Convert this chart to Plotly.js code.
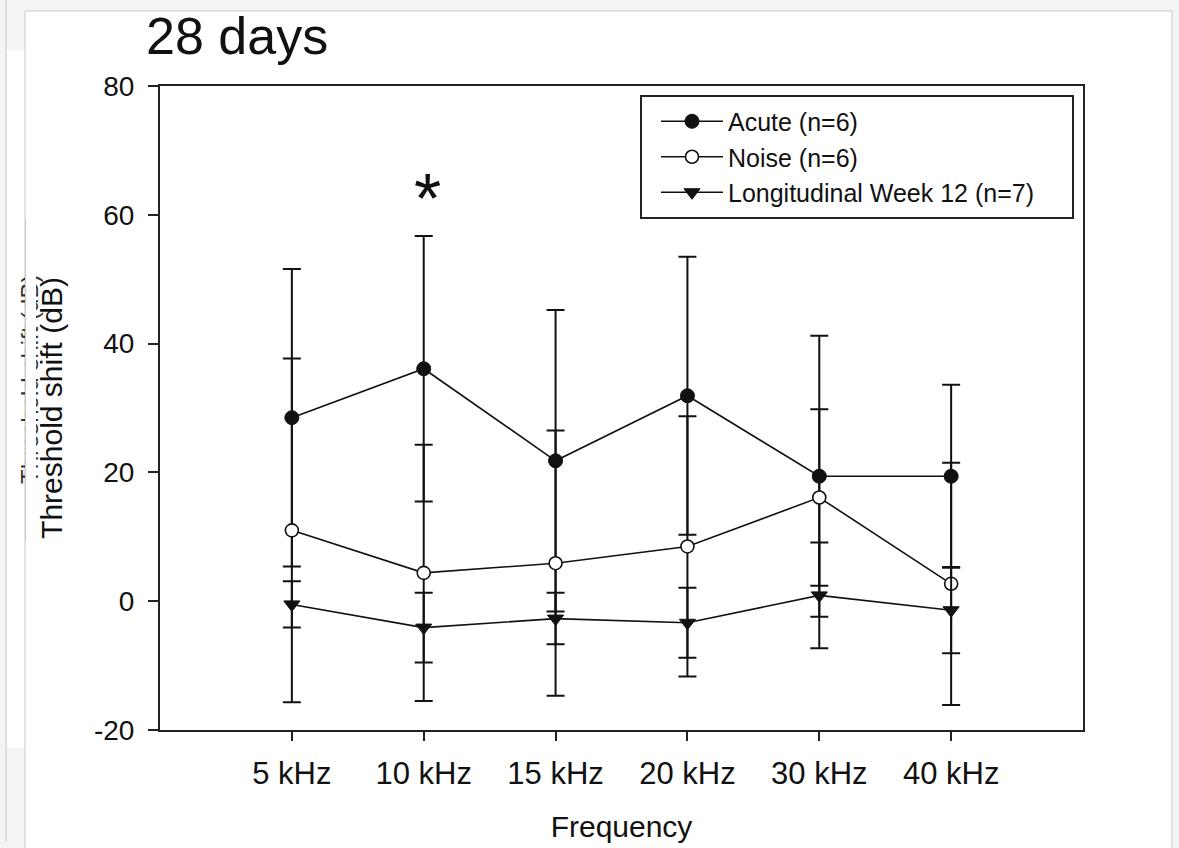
<!DOCTYPE html>
<html>
<head>
<meta charset="utf-8">
<script src="https://cdn.plot.ly/plotly-3.0.1.min.js"></script>
<style>
  html, body { margin: 0; padding: 0; background: #f3f4f4; }
  #chart { width: 1179px; height: 848px; }
</style>
</head>
<body>
<div id="chart"></div>
<script>
// Frequencies tested
const frequencies = ['5 kHz', '10 kHz', '15 kHz', '20 kHz', '30 kHz', '40 kHz'];

// Mean threshold shift (dB) and error (dB) per group
const acuteMean = [28.5, 36.1, 21.8, 31.9, 19.4, 19.4];
const acuteErr  = [23.1, 20.6, 23.4, 21.6, 21.8, 14.2];

const noiseMean = [11.0, 4.4, 5.9, 8.5, 16.1, 2.7];
const noiseErr  = [26.7, 19.9, 20.6, 20.2, 13.7, 18.8];

const longMean = [-0.5, -4.1, -2.7, -3.35, 0.9, -1.4];
const longErr  = [3.6, 5.4, 4.0, 5.45, 8.2, 6.7];

const seriesNames = ['Acute (n=6)', 'Noise (n=6)', 'Longitudinal Week 12 (n=7)'];
const yTicks = [-20, 0, 20, 40, 60, 80];

// Plot-area geometry (pixels) used to place paper-referenced decorations
const W = 1179, H = 848;
const M = { l: 160, r: 96, t: 86, b: 118 };
const plotW = W - M.l - M.r, plotH = H - M.t - M.b;
const px = p => (p - M.l) / plotW;
const py = p => (H - M.b - p) / plotH;

const FONT = '"Liberation Sans", Arial, sans-serif';
const INK = '#111111';

function series(name, mean, err, marker) {
  return {
    type: 'scatter',
    mode: 'lines+markers',
    name: name,
    x: frequencies,
    y: mean,
    error_y: { type: 'data', array: err, visible: true, color: INK, thickness: 2, width: 9 },
    line: { color: INK, width: 1.6 },
    marker: marker,
    cliponaxis: false
  };
}

const traces = [
  series(seriesNames[0], acuteMean, acuteErr,
         { symbol: 'circle', size: 14, color: INK, line: { color: INK, width: 1 } }),
  series(seriesNames[1], noiseMean, noiseErr,
         { symbol: 'circle', size: 13, color: '#ffffff', line: { color: INK, width: 1.6 } }),
  series(seriesNames[2], longMean, longErr,
         { symbol: 'triangle-down', size: 14, color: INK, line: { color: INK, width: 1 } })
];

const layout = {
  width: W, height: H, autosize: false,
  margin: M,
  paper_bgcolor: '#f3f4f4',
  plot_bgcolor: '#ffffff',
  font: { family: FONT, color: INK },
  showlegend: true,
  title: {
    text: '28 days',
    font: { family: FONT, size: 52, color: INK },
    xref: 'container', x: 146 / W, xanchor: 'left',
    yref: 'container', y: 1 - 36 / H, yanchor: 'middle'
  },
  xaxis: {
    type: 'category',
    range: [-1, 6],
    showgrid: false, zeroline: false,
    showline: true, linecolor: '#222', linewidth: 2, mirror: true,
    ticks: 'outside', ticklen: 9, tickwidth: 2, tickcolor: '#222',
    ticklabelstandoff: 6,
    tickfont: { family: FONT, size: 31, color: INK },
    title: { text: 'Frequency', font: { family: FONT, size: 30, color: INK }, standoff: 26 }
  },
  yaxis: {
    range: [-20, 80],
    tickvals: yTicks,
    ticktext: yTicks.map(String),
    showgrid: false, zeroline: false,
    showline: true, linecolor: '#222', linewidth: 2, mirror: true,
    ticks: 'outside', ticklen: 10, tickwidth: 2, tickcolor: '#222',
    ticklabelstandoff: 8,
    tickfont: { family: FONT, size: 28, color: INK },
    title: { text: 'Threshold shift (dB)', font: { family: FONT, size: 30, color: INK }, standoff: 22 }
  },
  legend: {
    x: px(656), xanchor: 'left',
    y: py(157), yanchor: 'middle',
    bgcolor: 'rgba(0,0,0,0)', borderwidth: 0,
    itemwidth: 62,
    font: { family: FONT, size: 25, color: INK },
    tracegroupgap: 0
  },
  shapes: [
    // page frame
    { type: 'line', xref: 'paper', yref: 'paper', layer: 'below',
      x0: px(6), x1: px(6), y0: py(0), y1: py(842), line: { color: '#c8c8c8', width: 1 } },
    { type: 'rect', xref: 'paper', yref: 'paper', layer: 'below',
      x0: px(7), x1: px(25), y0: py(50), y1: py(748), fillcolor: '#ffffff', line: { width: 0 } },
    { type: 'rect', xref: 'paper', yref: 'paper', layer: 'below',
      x0: px(25), x1: px(1172), y0: py(11), y1: py(870),
      fillcolor: '#ffffff', line: { color: '#c8c8c8', width: 1 } },
    // legend box
    { type: 'rect', xref: 'paper', yref: 'paper', layer: 'above',
      x0: px(641), x1: px(1073), y0: py(218), y1: py(96),
      fillcolor: 'rgba(0,0,0,0)', line: { color: '#222', width: 2 } }
  ],
  annotations: [
    // significance marker at 10 kHz
    { x: '10 kHz', y: 62.5, xref: 'x', yref: 'y', text: '*', showarrow: false,
      font: { family: FONT, size: 70, color: INK }, xanchor: 'center', yanchor: 'middle', xshift: 4 },
    // partially hidden axis label at the page edge
    { xref: 'paper', yref: 'paper', x: px(29), y: py(380), xanchor: 'center', yanchor: 'middle',
      text: 'Threshold shift (dB)', textangle: -90, showarrow: false,
      font: { family: FONT, size: 24, color: '#333' } },
    { xref: 'paper', yref: 'paper', x: px(31), y: py(380), xanchor: 'center', yanchor: 'middle',
      text: ' ', showarrow: false,
      width: 10, height: 300, bgcolor: '#ffffff', borderpad: 0, borderwidth: 0 },
    { xref: 'paper', yref: 'paper', x: px(25.5), y: py(380), xanchor: 'center', yanchor: 'middle',
      text: ' ', showarrow: false,
      width: 1, height: 320, bgcolor: '#c8c8c8', borderpad: 0, borderwidth: 0 }
  ]
};

Plotly.newPlot('chart', traces, layout, { displayModeBar: false, staticPlot: true });
</script>
</body>
</html>
